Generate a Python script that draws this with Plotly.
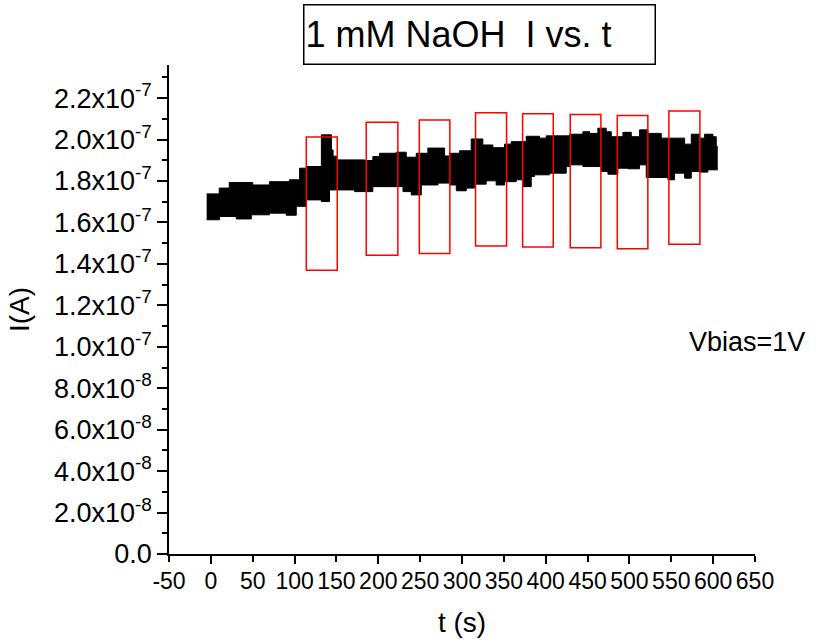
import plotly.graph_objects as go

FONT = "Liberation Sans, Arial, sans-serif"

# Current envelope of the I-t trace (units of 1e-7 A), stepwise levels
t_top = [-5, 10, 22, 50, 70, 94, 106, 114, 132, 144, 146, 150,
         184, 193.5, 201.5, 221.5, 233.4, 245.4, 259.2, 279.2, 285.2,
         297.1, 311, 324.9, 336.9, 350.8, 358.8, 376.7, 392.6, 400.6, 428.5,
         444.4, 452.4, 462.3, 472.3, 478.3, 492.2, 502.2, 512.1, 522.1, 538,
         565.9, 573.9, 583.8, 589.8, 599.7, 603.7, 605.5]
i_top = [1.738, 1.766, 1.793, 1.781, 1.797, 1.806, 1.862, 1.870, 2.023, 1.95, 1.92, 1.902,
         1.899, 1.918, 1.934, 1.939, 1.915, 1.934, 1.959, 1.921, 1.934,
         1.946, 2.003, 1.974, 1.961, 1.978, 1.990, 2.016, 2.007, 2.018, 2.026,
         2.038, 2.030, 2.055, 2.038, 2.014, 2.035, 2.014, 2.047, 2.030, 2.007,
         1.978, 2.026, 2.007, 2.026, 2.014, 1.966, 1.966]

t_bot = [-5, 10.4, 30.3, 48.3, 70, 90, 102, 114, 132, 141.8,
         171.7, 193.5, 229.5, 239.4, 251.4, 271.3, 285.2, 293.2, 305.1, 315,
         328.9, 340.8, 350.8, 364.8, 372.7, 382.7, 386.7, 404.6, 424.5, 428.5,
         444.4, 452.4, 466.3, 474.3, 486.2, 498.2, 512.1, 520.1, 546, 553.9,
         565.9, 573.9, 583.8, 593.7, 605.5]
i_bot = [1.613, 1.629, 1.617, 1.637, 1.645, 1.635, 1.678, 1.709, 1.701, 1.757,
         1.749, 1.773, 1.749, 1.733, 1.781, 1.790, 1.781, 1.753, 1.766, 1.785,
         1.801, 1.781, 1.797, 1.806, 1.773, 1.822, 1.830, 1.838, 1.870, 1.878,
         1.870, 1.870, 1.846, 1.833, 1.862, 1.859, 1.878, 1.817, 1.806, 1.838,
         1.814, 1.846, 1.843, 1.854, 1.854]

# Marked windows (t start/end in s, current low/high in 1e-7 A)
rect_t0 = [114.0, 185.6, 249.0, 316.2, 372.4, 429.3, 485.5, 547.1]
rect_t1 = [151.0, 223.4, 285.5, 353.2, 409.0, 465.9, 522.0, 584.2]
rect_lo = [1.370, 1.442, 1.450, 1.487, 1.482, 1.478, 1.473, 1.495]
rect_hi = [2.013, 2.084, 2.094, 2.129, 2.125, 2.121, 2.116, 2.138]

SCALE = 1e-7

y_tickvals = [k * 2e-8 for k in range(12)]
y_ticktext = ["0.0", "2.0x10<sup>-8</sup>", "4.0x10<sup>-8</sup>", "6.0x10<sup>-8</sup>",
              "8.0x10<sup>-8</sup>", "1.0x10<sup>-7</sup>", "1.2x10<sup>-7</sup>",
              "1.4x10<sup>-7</sup>", "1.6x10<sup>-7</sup>", "1.8x10<sup>-7</sup>",
              "2.0x10<sup>-7</sup>", "2.2x10<sup>-7</sup>"]
x_tickvals = list(range(-50, 651, 50))
x_major = list(range(0, 601, 100))

fig = go.Figure()
fig.add_trace(go.Scatter(x=t_bot, y=[v * SCALE for v in i_bot], mode="lines",
                         line=dict(color="black", width=1, shape="hv"),
                         showlegend=False, hoverinfo="skip"))
fig.add_trace(go.Scatter(x=t_top, y=[v * SCALE for v in i_top], mode="lines",
                         line=dict(color="black", width=1, shape="hv"),
                         fill="tonexty", fillcolor="black",
                         showlegend=False, hoverinfo="skip"))
# empty trace so the overlay axis carrying the long ticks is drawn
fig.add_trace(go.Scatter(x=[], y=[], xaxis="x2", showlegend=False, hoverinfo="skip"))

for a, b, lo, hi in zip(rect_t0, rect_t1, rect_lo, rect_hi):
    fig.add_shape(type="rect", xref="x", yref="y", x0=a, x1=b, y0=lo * SCALE, y1=hi * SCALE,
                  line=dict(color="#ff0000", width=1.5), fillcolor="rgba(0,0,0,0)")

axis_common = dict(showgrid=False, zeroline=False, showline=True, linecolor="black",
                   linewidth=1.5, ticks="outside", tickcolor="black", tickwidth=1.5,
                   automargin=False)

fig.update_layout(
    width=816, height=643,
    margin=dict(l=169, r=61, t=65, b=89),
    paper_bgcolor="white", plot_bgcolor="white",
    template="none",
    font=dict(family=FONT, color="black"),
    xaxis=dict(range=[-50, 650], tickmode="array", tickvals=x_tickvals,
               ticktext=[str(v) for v in x_tickvals], ticklen=6, tickangle=0,
               tickfont=dict(size=23, family=FONT),
               title=dict(text="t (s)", font=dict(size=28, family=FONT), standoff=19),
               **axis_common),
    xaxis2=dict(range=[-50, 650], overlaying="x", anchor="y", side="bottom",
                tickmode="array", tickvals=x_major, ticklen=9, showticklabels=False,
                showgrid=False, zeroline=False, showline=False, ticks="outside",
                tickcolor="black", tickwidth=1.5),
    yaxis=dict(range=[0, 2.36e-7], tickmode="array", tickvals=y_tickvals,
               ticktext=y_ticktext, ticklen=10,
               tickfont=dict(size=27, family=FONT),
               minor=dict(tickmode="linear", tick0=0, dtick=1e-8, ticklen=5,
                          tickcolor="black", tickwidth=1.5, ticks="outside"),
               title=dict(text="I(A)", font=dict(size=28, family=FONT), standoff=16),
               **axis_common),
    annotations=[
        dict(text="1 mM NaOH  I vs. t", xref="paper", yref="paper", x=0.530, y=1.0,
             xanchor="center", yanchor="bottom", showarrow=False, align="left",
             width=348, height=56, borderpad=1, bordercolor="black", borderwidth=1.5,
             bgcolor="white", font=dict(size=36, family=FONT)),
        dict(text="Vbias=1V", xref="paper", yref="paper", x=0.986, y=0.434,
             xanchor="center", yanchor="middle", showarrow=False,
             font=dict(size=27, family=FONT)),
    ],
)

fig.write_html("out.html")
